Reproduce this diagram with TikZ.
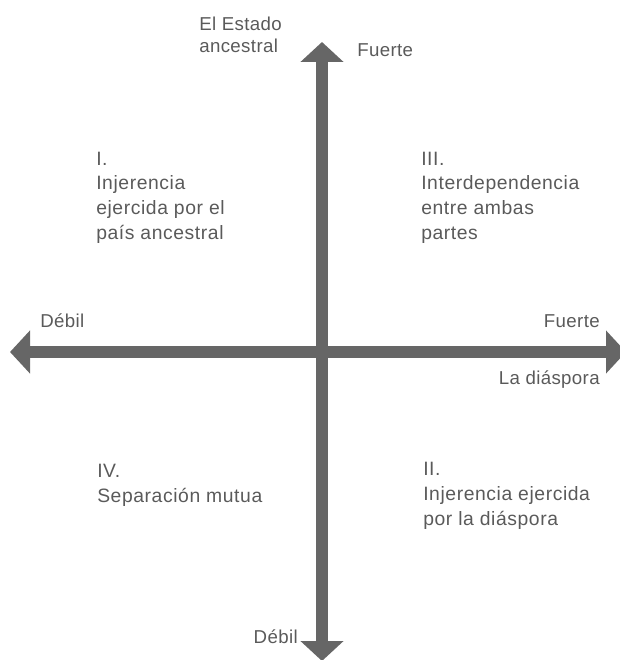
\documentclass[tikz,border=0pt]{standalone}
\usepackage{fontspec}
\setmainfont{Liberation Sans}
\newfontfamily\quadfont[LetterSpace=3]{Liberation Sans}
\newfontfamily\axisfont[LetterSpace=2]{Liberation Sans}
\usetikzlibrary{arrows.meta}
\definecolor{axisgray}{HTML}{666666}
\definecolor{textgray}{HTML}{5A5A5A}

\begin{document}
\begin{tikzpicture}[x=0.75pt, y=-0.75pt,
    axis/.style={line width=9pt, draw=axisgray,
        {Triangle[length=15pt,width=31.5pt]}-{Triangle[length=15pt,width=31.5pt]}},
    axislabel/.style={font=\axisfont\fontsize{14}{16.5}\selectfont, text=textgray, inner sep=0pt},
    quadlabel/.style={font=\quadfont\fontsize{14.5}{18.4}\selectfont, text=textgray, inner sep=0pt,
        anchor=base west, align=left}
]
\useasboundingbox (0,0) rectangle (620,660);

% axes
\coordinate (top) at (322,42);
\coordinate (bottom) at (322,661);
\coordinate (left) at (10,352);
\coordinate (right) at (626,352);
\draw[axis] (bottom) -- (top);
\draw[axis] (left) -- (right);

% axis labels (base = last line)
\node[axislabel, anchor=base west, align=left] (estado) at (199,53) {El Estado\\ancestral};
\node[axislabel, anchor=base west] (strongup) at (357,57) {Fuerte};
\node[axislabel, anchor=base west] (weakleft) at (40,327) {Débil};
\node[axislabel, anchor=base east] (strongright) at (600,327) {Fuerte};
\node[axislabel, anchor=base east] (diaspora) at (600,384) {La diáspora};
\node[axislabel, anchor=base east] (weakdown) at (298,643) {Débil};

% quadrants
\node[quadlabel] (quadI) at (96,239) {I.\\Injerencia\\ejercida por el\\país ancestral};
\node[quadlabel] (quadIII) at (421,239) {III.\\Interdependencia\\entre ambas\\partes};
\node[quadlabel] (quadIV) at (97,502) {IV.\\Separación mutua};
\node[quadlabel] (quadII) at (423,525) {II.\\Injerencia ejercida\\por la diáspora};
\end{tikzpicture}
\end{document}
